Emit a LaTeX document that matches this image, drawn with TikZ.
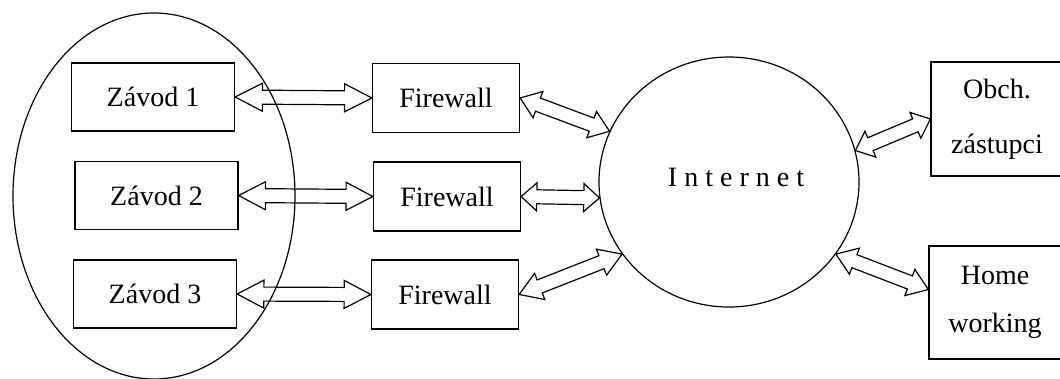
\documentclass[tikz,border=0pt]{standalone}
\usepackage{fontspec}
\setmainfont{Liberation Serif}
\usetikzlibrary{calc,shapes.geometric}

\begin{document}
\begin{tikzpicture}[
x=1pt,
y=-1pt,
line width=1.2pt,
every node/.style={
    inner sep=0pt,
    font=\fontsize{28}{34}\selectfont
},
box/.style={draw, rectangle, align=center},
site/.style={box, minimum width=163pt, minimum height=68pt},
wall/.style={box, minimum width=147pt, minimum height=69pt},
remote/.style={box, minimum width=132pt, minimum height=113pt},
dblarrow/.style={
    to path={
        let \p1=(\tikztostart), \p2=(\tikztotarget),
            \n1={veclen(\x2-\x1,\y2-\y1)},
            \n2={min(28pt,0.2*\n1)} in
        (\tikztostart)
        -- ($(\tikztostart)!\n2!(\tikztotarget)!14pt!90:(\tikztotarget)$)
        -- ($(\tikztostart)!\n2!(\tikztotarget)!7pt!90:(\tikztotarget)$)
        -- ($(\tikztotarget)!\n2!(\tikztostart)!7pt!-90:(\tikztostart)$)
        -- ($(\tikztotarget)!\n2!(\tikztostart)!14pt!-90:(\tikztostart)$)
        -- (\tikztotarget)
        -- ($(\tikztotarget)!\n2!(\tikztostart)!14pt!90:(\tikztostart)$)
        -- ($(\tikztotarget)!\n2!(\tikztostart)!7pt!90:(\tikztostart)$)
        -- ($(\tikztostart)!\n2!(\tikztotarget)!7pt!-90:(\tikztotarget)$)
        -- ($(\tikztostart)!\n2!(\tikztotarget)!14pt!-90:(\tikztotarget)$)
        -- cycle
    }
}
]

\useasboundingbox (0,0) rectangle (1060,378);

% plants
\node[draw, ellipse, minimum width=282pt, minimum height=366pt] (zavody) at (154,196) {};
\node[site] (z1) at (153,97) {Závod 1};
\node[site] (z2) at (156.5,195.5) {Závod 2};
\node[site] (z3) at (155,294) {Závod 3};

% firewalls
\node[wall] (f1) at (446,98) {Firewall};
\node[wall] (f2) at (447,196.5) {Firewall};
\node[wall] (f3) at (445,294.5) {Firewall};

\node[draw, ellipse, minimum width=260pt, minimum height=250pt,
    label={[xshift=7pt,yshift=4.5pt]center:I n t e r n e t}] (inet) at (729,182) {};

% remote users
\node[remote, minimum height=114pt] (obch) at (997,119) {Obch.\\[21pt]zástupci};
\node[remote] (home) at (995,302.5) {Home\\[14pt]working};

\draw[dblarrow] (z1.east) to (f1.west);
\draw[dblarrow] (z2.east) to (f2.west);
\draw[dblarrow] (z3.east) to (f3.west);
\draw[dblarrow] (f1.east) to (inet.157);
\draw[dblarrow] (f2.east) to (inet.187);
\draw[dblarrow] (f3.east) to (inet.214);
\draw[dblarrow] (inet.14) to (obch.west);
\draw[dblarrow] (inet.326) to (home.169);

\end{tikzpicture}
\end{document}
